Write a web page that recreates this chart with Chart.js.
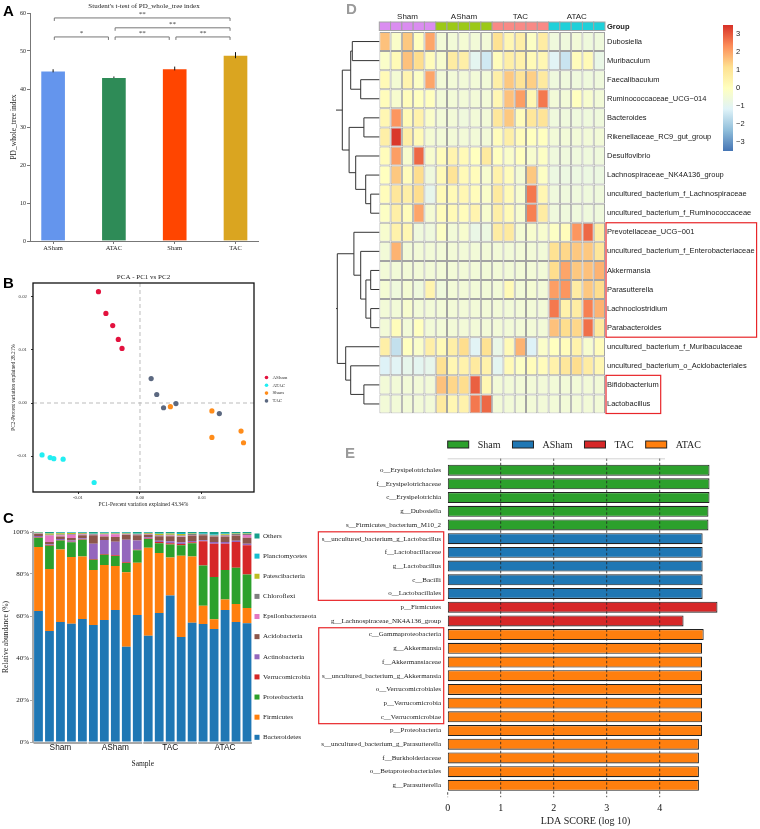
<!DOCTYPE html>
<html>
<head>
<meta charset="utf-8">
<script src="https://cdn.jsdelivr.net/npm/chart.js@4.4.0/dist/chart.umd.min.js"></script>
<style>
body { margin: 0; background: #fff; }
#fig { position: relative; width: 760px; height: 829px; overflow: hidden; background: #fff; }
#fig canvas { position: absolute; }
.tag { position: absolute; font: bold 15px "Liberation Sans", Arial, sans-serif; line-height: 1; color: #000; }
.tag.grey { color: #9a9a9a; }
</style>
</head>
<body>
<div id="fig">
  <canvas id="chartA" width="300" height="262" style="left:0px;top:0px"></canvas>
  <canvas id="chartB" width="300" height="240" style="left:0px;top:268px"></canvas>
  <canvas id="chartC" width="322" height="272" style="left:0px;top:512px"></canvas>
  <canvas id="chartD" width="424" height="420" style="left:336px;top:0px"></canvas>
  <canvas id="chartE" width="460" height="399" style="left:300px;top:430px"></canvas>
  <div class="tag" style="left:3px;top:3px">A</div>
  <div class="tag" style="left:3px;top:275px">B</div>
  <div class="tag" style="left:3px;top:510px">C</div>
  <div class="tag grey" style="left:346px;top:1px">D</div>
  <div class="tag grey" style="left:345px;top:445px">E</div>
</div>
<script>
// ---- A: PD whole tree ----
const groupsA = ['ASham', 'ATAC', 'Sham', 'TAC'];
const pdMeans = [44.8, 43.1, 45.4, 48.9];
const pdErrs = [0.4, 0.2, 0.5, 0.8];
const pdColors = ['#6495ED', '#2E8B57', '#FF4500', '#DAA520'];
// [from, to, level, label]
const pdTests = [[0, 1, 53.7, '*'], [1, 2, 53.7, '**'], [2, 3, 53.7, '**'], [1, 3, 56.1, '**'], [0, 3, 58.7, '**']];

// ---- B: PCA ----
const pcaGroups = ['ASham', 'ATAC', 'Sham', 'TAC'];
const pcaColors = ['#E3123E', '#22EEF2', '#FF8C1A', '#5B6880'];
const pc1ASham = [-0.0067, -0.0055, -0.0044, -0.0035, -0.0029];
const pc2ASham = [0.0210, 0.0169, 0.0146, 0.0120, 0.0103];
const pc1ATAC = [-0.0158, -0.0145, -0.0139, -0.0124, -0.0074];
const pc2ATAC = [-0.0098, -0.0103, -0.0105, -0.0106, -0.0150];
const pc1Sham = [0.0049, 0.0116, 0.0116, 0.0163, 0.0167];
const pc2Sham = [-0.0007, -0.0015, -0.0065, -0.0053, -0.0075];
const pc1TAC = [0.0018, 0.0027, 0.0038, 0.0058, 0.0128];
const pc2TAC = [0.0046, 0.0016, -0.0009, -0.0001, -0.0020];
const pcaTicksX = [-0.01, 0, 0.01];
const pcaTicksY = [-0.01, 0, 0.01, 0.02];

// ---- C: phylum composition ----
const samples = ['Sham1', 'Sham2', 'Sham3', 'Sham4', 'Sham5', 'ASham1', 'ASham2', 'ASham3', 'ASham4', 'ASham5',
  'TAC1', 'TAC2', 'TAC3', 'TAC4', 'TAC5', 'ATAC1', 'ATAC2', 'ATAC3', 'ATAC4', 'ATAC5'];
const sampleGroups = ['Sham', 'ASham', 'TAC', 'ATAC'];
const sampleGroup = [0, 0, 0, 0, 0, 1, 1, 1, 1, 1, 2, 2, 2, 2, 2, 3, 3, 3, 3, 3];
const bacteroidetes = [62.4, 52.9, 57.1, 56.3, 58.6, 55.7, 58.1, 62.9, 45.4, 60.5, 50.6, 61.4, 69.8, 50.0, 56.8, 56.2, 53.8, 62.9, 57.1, 56.5];
const firmicutes = [30.5, 29.5, 34.6, 31.8, 29.7, 26.2, 26.2, 20.9, 35.4, 24.9, 41.9, 28.6, 18.0, 38.7, 31.5, 8.7, 4.6, 4.9, 8.6, 7.3];
const proteobacteria = [4.4, 11.1, 4.3, 7.0, 8.0, 4.9, 4.9, 4.8, 4.4, 5.9, 4.2, 4.6, 6.3, 5.0, 6.3, 19.1, 20.2, 14.1, 17.3, 16.0];
const verrucomicrobia = [0.2, 0.3, 0.2, 0.2, 0.2, 0.3, 0.3, 0.3, 0.4, 0.2, 0.2, 0.6, 0.5, 0.6, 0.5, 11.6, 15.8, 12.5, 12.2, 13.9];
const actinobacteria = [0.6, 0.4, 0.5, 0.6, 0.5, 7.3, 6.7, 6.5, 10.7, 4.4, 0.6, 0.6, 1.0, 0.8, 0.6, 0.5, 0.8, 0.8, 0.6, 0.7];
const acidobacteria = [0.9, 1.0, 1.2, 1.2, 1.5, 4.0, 1.6, 2.2, 2.4, 2.5, 1.2, 2.2, 2.4, 2.5, 2.6, 2.3, 2.6, 2.7, 2.5, 2.9];
const epsilonbacteraeota = [0.2, 3.1, 0.5, 1.6, 0.3, 0.3, 1.0, 1.3, 0.2, 0.3, 0.2, 0.2, 0.3, 0.3, 0.3, 0.2, 0.2, 0.3, 0.3, 1.3];
const chloroflexi = [0.2, 0.4, 0.4, 0.4, 0.4, 0.3, 0.3, 0.3, 0.3, 0.3, 0.3, 0.4, 0.4, 0.4, 0.4, 0.3, 0.3, 0.4, 0.4, 0.4];
const patescibacteria = [0.2, 0.6, 0.6, 0.4, 0.3, 0.2, 0.2, 0.2, 0.2, 0.2, 0.3, 0.6, 0.6, 0.8, 0.3, 0.2, 0.2, 0.3, 0.3, 0.3];
const planctomycetes = [0.2, 0.2, 0.3, 0.3, 0.2, 0.3, 0.3, 0.2, 0.2, 0.3, 0.2, 0.3, 0.2, 0.4, 0.2, 0.2, 0.3, 0.4, 0.2, 0.2];
const others = [0.2, 0.5, 0.3, 0.2, 0.3, 0.5, 0.4, 0.4, 0.4, 0.5, 0.3, 0.5, 0.5, 0.5, 0.5, 0.7, 1.2, 0.7, 0.5, 0.5];
const phyla = ['Bacteroidetes', 'Firmicutes', 'Proteobacteria', 'Verrucomicrobia', 'Actinobacteria', 'Acidobacteria',
  'Epsilonbacteraeota', 'Chloroflexi', 'Patescibacteria', 'Planctomycetes', 'Others'];
const phylaValues = [bacteroidetes, firmicutes, proteobacteria, verrucomicrobia, actinobacteria, acidobacteria,
  epsilonbacteraeota, chloroflexi, patescibacteria, planctomycetes, others];
const phylaColors = ['#1F77B4', '#FF7F0E', '#2CA02C', '#D62728', '#9467BD', '#8C564B', '#E377C2', '#7F7F7F', '#BCBD22', '#17BECF', '#16A08C'];

// ---- D: heatmap (row z-scores) ----
const taxa = ['Dubosiella', 'Muribaculum', 'Faecalibaculum', 'Ruminococcaceae_UCG\u2212014', 'Bacteroides',
  'Rikenellaceae_RC9_gut_group', 'Desulfovibrio', 'Lachnospiraceae_NK4A136_group', 'uncultured_bacterium_f_Lachnospiraceae',
  'uncultured_bacterium_f_Ruminococcaceae', 'Prevotellaceae_UCG\u2212001', 'uncultured_bacterium_f_Enterobacteriaceae',
  'Akkermansia', 'Parasutterella', 'Lachnoclostridium', 'Parabacteroides', 'uncultured_bacterium_f_Muribaculaceae',
  'uncultured_bacterium_o_Acidobacteriales', 'Bifidobacterium', 'Lactobacillus'];
const heatZ = [
  [1.6, -0.2, 1.5, 0.0, 2.0, -0.5, -0.5, -0.4, -0.5, -0.5, 1.1, 0.3, 0.6, -0.1, 0.7, -0.6, -0.6, -0.5, -0.6, -0.6],
  [-0.2, 0.2, 1.6, 1.2, 0.1, -0.3, 0.7, 0.6, -1.0, -1.4, 0.1, 0.6, 0.5, 0.2, 0.3, -1.1, -1.5, 0.1, 0.2, -0.8],
  [0.2, -0.4, 0.4, -0.1, 2.0, -0.5, -0.5, -0.5, -0.5, -0.5, 0.6, 1.5, 1.0, 1.4, 0.8, -0.6, -0.6, -0.6, -0.6, -0.6],
  [0.1, -0.3, 0.1, 0.0, 0.0, -0.5, -0.5, -0.5, -0.5, -0.5, 0.3, 1.6, 2.1, 0.3, 2.6, -0.5, -0.5, 0.0, -0.3, -0.5],
  [0.3, 2.2, 0.2, 0.5, -0.2, -0.5, -0.5, -0.6, -0.5, -0.5, 0.9, 1.5, 0.1, 0.9, 1.0, -0.6, -0.6, -0.6, -0.6, -0.6],
  [0.6, 3.4, 0.6, 0.2, -0.4, -0.5, -0.5, -0.5, -0.5, -0.5, 0.1, 0.6, 0.1, 0.0, 0.0, -0.5, -0.5, -0.5, -0.5, -0.5],
  [0.1, 2.1, -0.3, 2.8, -0.3, 0.1, 0.4, 0.2, 0.0, 0.8, 0.0, -0.2, 0.0, -0.3, -0.1, -0.6, -0.6, -0.6, -0.6, -0.6],
  [0.0, 1.5, 0.1, 1.2, -0.6, 0.2, 1.0, 0.2, 0.1, -0.3, 0.5, 0.1, -0.4, 1.5, -0.1, -0.7, -0.7, -0.7, -0.7, -0.7],
  [0.1, 0.9, 0.6, 1.2, -0.9, 0.2, 0.2, 0.3, 0.1, -0.2, 0.8, 0.2, -0.3, 2.6, 0.3, -0.6, -0.6, -0.6, -0.6, -0.6],
  [-0.1, 0.6, 0.1, 2.0, -0.4, 0.1, 0.2, 0.1, 0.4, -0.3, 0.6, 0.2, -0.3, 2.5, 0.7, -0.6, -0.6, -0.6, -0.6, -0.6],
  [-0.3, 0.5, 0.3, -0.6, -0.6, -0.1, -0.5, -0.3, -0.8, -0.7, 0.7, 0.8, -0.4, -0.3, -0.3, -0.1, 0.1, 2.2, 2.8, 0.6],
  [-0.5, 1.8, -0.5, -0.5, -0.5, -0.5, -0.5, -0.5, -0.5, -0.5, -0.5, -0.5, -0.5, -0.5, -0.5, 1.1, 1.3, 1.5, 1.5, 0.9],
  [-0.5, -0.5, -0.5, -0.5, -0.5, -0.5, -0.5, -0.5, -0.5, -0.5, -0.5, -0.5, -0.5, -0.5, -0.5, 1.2, 2.0, 1.5, 1.6, 1.8],
  [-0.4, -0.6, -0.4, -0.6, 0.4, -0.6, -0.5, -0.5, -0.5, -0.5, -0.5, 0.2, -0.5, -0.4, -0.5, 2.1, 2.2, 0.7, 1.5, 1.2],
  [-0.5, -0.5, -0.3, -0.5, -0.5, -0.5, -0.5, -0.5, -0.5, -0.5, -0.5, -0.5, -0.5, -0.5, -0.5, 2.6, 0.5, 0.7, 2.5, 1.8],
  [-0.5, 0.1, -0.5, 0.0, -0.5, -0.5, -0.5, -0.5, -0.5, -0.5, -0.5, -0.5, -0.5, -0.5, -0.5, 1.6, 1.2, 1.3, 2.7, 0.8],
  [0.6, -1.6, 0.0, -0.2, 0.6, 0.2, 0.6, 1.2, -1.1, 1.1, -0.8, 0.2, 1.8, -1.2, -0.2, 0.0, 0.1, 0.5, -0.3, 0.1],
  [-1.2, -1.1, -0.9, -1.0, -0.9, 1.1, 0.3, 0.5, 0.8, 0.5, -1.0, 0.2, -0.1, 0.1, 0.1, 0.5, 0.9, 1.2, 0.7, 0.3],
  [-0.5, -0.5, -0.5, -0.5, -0.5, 1.6, 1.3, 1.2, 2.9, 0.3, -0.5, -0.5, -0.5, -0.5, -0.5, -0.5, -0.5, -0.5, -0.5, -0.5],
  [-0.5, -0.5, -0.5, -0.5, -0.5, 0.8, 0.3, 0.5, 2.6, 2.8, -0.5, -0.5, -0.5, -0.5, -0.5, -0.5, -0.5, -0.5, -0.5, -0.5]
];
const groupColorsD = ['#DA8DF0', '#9CC918', '#F88A86', '#1FD0D9'];
// merges: [a, b, height]; a/b >= 0 are rows, negative -(k+1) point at merge k
const dendroMerges = [
  [0, 1, 6.5], [2, 3, 4.4], [-1, -2, 6.9], [4, 5, 3.6], [8, 9, 1.9], [7, -5, 3.15], [6, -6, 5.65],
  [-4, -7, 7.3], [-3, -8, 9.0], [12, 13, 1.9], [14, 15, 1.9], [-10, -11, 3.1], [11, -12, 4.4],
  [10, -13, 6.1], [18, 19, 3.6], [17, -15, 6.9], [16, -16, 8.15], [-14, -17, 10.25], [-9, -18, 11.1]
];
const zStops = [-3.5, -2.333, -1.167, 0, 1.167, 2.333, 3.5];
const zColors = ['#4575B4', '#91BFDB', '#E0F3F8', '#FFFFBF', '#FEE090', '#FC8D59', '#D73027'];
const zTicks = [3, 2, 1, 0, -1, -2, -3];
const heatBoxes = [[10, 15], [18, 19]];

// ---- E: LEfSe ----
const ldaNames = ['o__Erysipelotrichales', 'f__Erysipelotrichaceae', 'c__Erysipelotrichia', 'g__Dubosiella',
  's__Firmicutes_bacterium_M10_2', 's__uncultured_bacterium_g_Lactobacillus', 'f__Lactobacillaceae', 'g__Lactobacillus',
  'c__Bacilli', 'o__Lactobacillales', 'p__Firmicutes', 'g__Lachnospiraceae_NK4A136_group', 'c__Gammaproteobacteria',
  'g__Akkermansia', 'f__Akkermansiaceae', 's__uncultured_bacterium_g_Akkermansia', 'o__Verrucomicrobiales',
  'p__Verrucomicrobia', 'c__Verrucomicrobiae', 'p__Proteobacteria', 's__uncultured_bacterium_g_Parasutterella',
  'f__Burkholderiaceae', 'o__Betaproteobacteriales', 'g__Parasutterella'];
const ldaScores = [4.94, 4.94, 4.94, 4.92, 4.92, 4.81, 4.81, 4.81, 4.81, 4.81, 5.09, 4.45, 4.83, 4.80,
  4.80, 4.80, 4.80, 4.80, 4.80, 4.80, 4.74, 4.74, 4.74, 4.74];
const ldaGroup = [0, 0, 0, 0, 0, 1, 1, 1, 1, 1, 2, 2, 3, 3, 3, 3, 3, 3, 3, 3, 3, 3, 3, 3];
const ldaGroupNames = ['Sham', 'ASham', 'TAC', 'ATAC'];
const ldaColors = ['#2CA02C', '#1F77B4', '#D62728', '#FF7F0E'];
const ldaTicks = [0, 1, 2, 3, 4];
const ldaBoxes = [[5, 9], [12, 18]];

const SERIF = '"Liberation Serif", "Times New Roman", serif';
const SANS = '"Liberation Sans", Arial, sans-serif';
Chart.defaults.font.family = SERIF;
Chart.defaults.color = '#222';
Chart.defaults.animation = false;
Chart.defaults.responsive = false;
Chart.defaults.devicePixelRatio = 1;
Chart.defaults.plugins.legend.display = false;
Chart.defaults.plugins.tooltip.enabled = false;

function hexRgb(h) { return [1, 3, 5].map(i => parseInt(h.slice(i, i + 2), 16)); }
function zColor(v) {
  v = Math.max(zStops[0], Math.min(zStops[zStops.length - 1], v));
  let k = 0;
  while (k < zStops.length - 2 && v > zStops[k + 1]) k++;
  const t = (v - zStops[k]) / (zStops[k + 1] - zStops[k]);
  const a = hexRgb(zColors[k]), b = hexRgb(zColors[k + 1]);
  return 'rgb(' + a.map((c, i) => Math.round(c + (b[i] - c) * t)).join(',') + ')';
}

// ---------- A ----------
const pdExtras = {
  id: 'pdExtras',
  afterDatasetsDraw(chart) {
    const {ctx, chartArea, scales: {x, y}} = chart;
    ctx.save();
    ctx.strokeStyle = '#111';
    ctx.lineWidth = 1;
    pdMeans.forEach((m, i) => {
      const px = x.getPixelForValue(i + 1);
      ctx.beginPath();
      ctx.moveTo(px, y.getPixelForValue(m - pdErrs[i]));
      ctx.lineTo(px, y.getPixelForValue(m + pdErrs[i]));
      ctx.stroke();
    });
    ctx.strokeStyle = '#777';
    ctx.fillStyle = '#333';
    ctx.font = '7px ' + SERIF;
    ctx.textAlign = 'center';
    pdTests.forEach(([a, b, lvl, star]) => {
      const x1 = x.getPixelForValue(a + 1.02), x2 = x.getPixelForValue(b + 0.91);
      const py = y.getPixelForValue(lvl);
      ctx.beginPath();
      ctx.moveTo(x1, py + 3); ctx.lineTo(x1, py); ctx.lineTo(x2, py); ctx.lineTo(x2, py + 3);
      ctx.stroke();
      ctx.fillText(star, (x1 + x2) / 2, py - 1.5);
    });
    ctx.fillStyle = '#222';
    ctx.textBaseline = 'middle';
    ctx.fillText("Student's t-test of PD_whole_tree index", (chartArea.left + chartArea.right) / 2, 6);
    ctx.restore();
  }
};

new Chart(document.getElementById('chartA'), {
  type: 'bar',
  data: {
    datasets: [{
      data: pdMeans.map((v, i) => ({x: i + 1, y: v})),
      backgroundColor: pdColors,
      borderColor: 'rgba(255,255,255,0.55)',
      borderWidth: 1,
      barThickness: 25
    }]
  },
  options: {
    layout: {padding: {top: 13, right: 42, left: 0, bottom: 0}},
    scales: {
      x: {
        type: 'linear', min: 0.62, max: 4.37, offset: false,
        afterBuildTicks: s => { s.ticks = [1, 2, 3, 4].map(v => ({value: v})); },
        ticks: {callback: v => groupsA[v - 1], font: {size: 6.5}, padding: 0, color: '#222'},
        grid: {drawOnChartArea: false, offset: false, tickLength: 3, color: '#777'},
        border: {color: '#777'},
        afterFit: s => { s.height = 21; }
      },
      y: {
        min: 0, max: 60,
        ticks: {stepSize: 10, font: {size: 6}, padding: 1, color: '#222'},
        title: {display: true, text: 'PD_whole_tree index', font: {size: 7.5}, padding: {top: 10, bottom: 0}},
        grid: {drawOnChartArea: false, tickLength: 3, color: '#777'},
        border: {color: '#777'},
        afterFit: s => { s.width = 30; }
      }
    }
  },
  plugins: [pdExtras]
});

// ---------- B ----------
const pcaExtras = {
  id: 'pcaExtras',
  beforeDatasetsDraw(chart) {
    const {ctx, chartArea: a, scales: {x, y}} = chart;
    ctx.save();
    ctx.strokeStyle = '#bbb';
    ctx.lineWidth = 1;
    ctx.setLineDash([4, 3]);
    ctx.beginPath();
    ctx.moveTo(x.getPixelForValue(0), a.top); ctx.lineTo(x.getPixelForValue(0), a.bottom);
    ctx.moveTo(a.left, y.getPixelForValue(0)); ctx.lineTo(a.right, y.getPixelForValue(0));
    ctx.stroke();
    ctx.restore();
  },
  afterDraw(chart) {
    const {ctx, chartArea: a} = chart;
    ctx.save();
    ctx.strokeStyle = '#111';
    ctx.lineWidth = 1.3;
    ctx.strokeRect(a.left, a.top, a.right - a.left, a.bottom - a.top);
    ctx.fillStyle = '#222';
    ctx.font = '7px ' + SERIF;
    ctx.textAlign = 'center';
    ctx.textBaseline = 'middle';
    ctx.fillText('PCA - PC1 vs PC2', (a.left + a.right) / 2, a.top - 6);
    ctx.font = '5px ' + SERIF;
    ctx.textAlign = 'left';
    chart.data.datasets.forEach((d, i) => {
      const ly = 109.5 + i * 7.8;
      ctx.fillStyle = d.backgroundColor;
      ctx.beginPath(); ctx.arc(a.right + 12.5, ly, 1.8, 0, Math.PI * 2); ctx.fill();
      ctx.fillStyle = '#333';
      ctx.fillText(d.label, a.right + 18.5, ly);
    });
    ctx.restore();
  }
};

const pcaPoints = [[pc1ASham, pc2ASham], [pc1ATAC, pc2ATAC], [pc1Sham, pc2Sham], [pc1TAC, pc2TAC]];
new Chart(document.getElementById('chartB'), {
  type: 'scatter',
  data: {
    datasets: pcaPoints.map(([xs, ys], g) => ({
      label: pcaGroups[g],
      data: xs.map((v, i) => ({x: v, y: ys[i]})),
      backgroundColor: pcaColors[g],
      borderWidth: 0,
      pointRadius: 2.6
    }))
  },
  options: {
    layout: {padding: {top: 15, right: 46, left: 0, bottom: 0}},
    scales: {
      x: {
        min: -0.01726, max: 0.01839,
        afterBuildTicks: s => { s.ticks = pcaTicksX.map(v => ({value: v})); },
        ticks: {callback: v => v.toFixed(2), font: {size: 4.8}, padding: 0.5, color: '#333'},
        grid: {drawOnChartArea: false, tickLength: 2, color: '#333'},
        border: {display: false},
        title: {display: true, text: 'PC1-Percent variation explained 43.34%', font: {size: 5.5}, padding: {top: 0, bottom: 0}},
        afterFit: s => { s.height = 16; }
      },
      y: {
        min: -0.01679, max: 0.02264,
        afterBuildTicks: s => { s.ticks = pcaTicksY.map(v => ({value: v})); },
        ticks: {callback: v => v.toFixed(2), font: {size: 4.8}, padding: 4, color: '#333'},
        grid: {drawOnChartArea: false, tickLength: 2, color: '#333'},
        border: {display: false},
        title: {display: true, text: 'PC2-Percent variation explained 28.21%', font: {size: 5.3}, padding: {top: 10.5, bottom: 0}},
        afterFit: s => { s.width = 33; }
      }
    }
  },
  plugins: [pcaExtras]
});

// ---------- C ----------
const compExtras = {
  id: 'compExtras',
  afterDraw(chart) {
    const {ctx, chartArea: a, scales: {x}} = chart;
    const step = (a.right - a.left) / samples.length;
    ctx.save();
    ctx.strokeStyle = '#a8a8a8';
    ctx.lineWidth = 2;
    sampleGroups.forEach((g, gi) => {
      const idx = sampleGroup.map((s, i) => s === gi ? i : -1).filter(i => i >= 0);
      const x0 = x.getPixelForValue(idx[0]) - step * 0.45;
      const x1 = x.getPixelForValue(idx[idx.length - 1]) + step * 0.45;
      ctx.beginPath(); ctx.moveTo(x0, a.bottom + 1); ctx.lineTo(x1, a.bottom + 1); ctx.stroke();
    });
    ctx.font = '7px ' + SERIF;
    ctx.textBaseline = 'middle';
    ctx.textAlign = 'left';
    const sets = chart.data.datasets.slice().reverse();
    sets.forEach((d, i) => {
      const ly = a.top + 4 + i * 20.13;
      ctx.fillStyle = d.backgroundColor;
      ctx.fillRect(a.right + 2, ly - 2.5, 5, 5);
      ctx.fillStyle = '#222';
      ctx.fillText(d.label, a.right + 10.5, ly);
    });
    ctx.restore();
  }
};

new Chart(document.getElementById('chartC'), {
  type: 'bar',
  data: {
    labels: samples,
    datasets: phyla.map((p, i) => ({
      label: p,
      data: phylaValues[i],
      backgroundColor: phylaColors[i],
      borderWidth: 0,
      barPercentage: 0.8,
      categoryPercentage: 1
    }))
  },
  options: {
    layout: {padding: {top: 20, right: 69.5, left: 0, bottom: 0}},
    scales: {
      x: {
        stacked: true,
        ticks: {
          autoSkip: false, maxRotation: 0, padding: 1, color: '#111',
          font: {family: SANS, size: 8.3},
          callback: (v, i) => i % 5 === 2 ? sampleGroups[Math.floor(i / 5)] : ''
        },
        grid: {display: false, drawTicks: false},
        border: {display: false},
        title: {display: true, text: 'Sample', font: {size: 7.5}, padding: {top: 0, bottom: 15.5}},
        afterFit: s => { s.height = 42; }
      },
      y: {
        stacked: true, min: 0, max: 100,
        ticks: {stepSize: 20, callback: v => v + '%', font: {size: 7}, padding: 1, color: '#222'},
        grid: {drawOnChartArea: false, tickLength: 3, color: '#aaa'},
        border: {color: '#aaa', width: 2},
        title: {display: true, text: 'Relative abundance (%)', font: {size: 7.5}, padding: {top: 1.5, bottom: 0}},
        afterFit: s => { s.width = 33; }
      }
    }
  },
  plugins: [compExtras]
});

// ---------- D ----------
const heatExtras = {
  id: 'heatExtras',
  afterDraw(chart) {
    const {ctx, chartArea: a, scales: {x, y}} = chart;
    const rowH = (a.bottom - a.top) / taxa.length;
    ctx.save();
    // annotation bar
    ctx.lineWidth = 1;
    ctx.strokeStyle = '#a3a3a3';
    sampleGroup.forEach((g, c) => {
      const x0 = x.getPixelForValue(c), x1 = x.getPixelForValue(c + 1);
      ctx.fillStyle = groupColorsD[g];
      ctx.fillRect(x0, a.top - 10, x1 - x0, 8.5);
      ctx.strokeRect(x0, a.top - 10, x1 - x0, 8.5);
    });
    ctx.fillStyle = '#222';
    ctx.font = '8px ' + SANS;
    ctx.textAlign = 'center';
    ctx.textBaseline = 'middle';
    sampleGroups.forEach((g, gi) => {
      const idx = sampleGroup.map((s, i) => s === gi ? i : -1).filter(i => i >= 0);
      const cx = (x.getPixelForValue(idx[0]) + x.getPixelForValue(idx[idx.length - 1] + 1)) / 2;
      ctx.fillText(g, cx, a.top - 15);
    });
    ctx.textAlign = 'left';
    ctx.font = 'bold 7.5px ' + SANS;
    ctx.fillText('Group', a.right + 2, a.top - 5.5);

    // row dendrogram
    const pos = [];
    const node = k => k >= 0 ? {x: a.left, y: y.getPixelForValue(k)} : pos[-k - 1];
    ctx.strokeStyle = '#333';
    ctx.lineWidth = 1;
    dendroMerges.forEach(([p, q, h]) => {
      const n1 = node(p), n2 = node(q);
      const mx = a.left - 1 - h * 4;
      ctx.beginPath();
      ctx.moveTo(n1.x, n1.y); ctx.lineTo(mx, n1.y); ctx.lineTo(mx, n2.y); ctx.lineTo(n2.x, n2.y);
      ctx.stroke();
      pos.push({x: mx, y: (n1.y + n2.y) / 2});
    });

    // colour key
    const kx = a.right + 118, zPx = v => a.top + 56 - 18 * v;
    const grad = ctx.createLinearGradient(0, zPx(3.5), 0, zPx(-3.5));
    zStops.forEach((s, i) => grad.addColorStop((3.5 - s) / 7, zColors[i]));
    ctx.fillStyle = grad;
    ctx.fillRect(kx, zPx(3.5), 10, zPx(-3.5) - zPx(3.5));
    ctx.fillStyle = '#222';
    ctx.font = '7.5px ' + SANS;
    zTicks.forEach(v => ctx.fillText(v < 0 ? '\u2212' + (-v) : String(v), kx + 13, zPx(v)));

    // highlight boxes
    ctx.strokeStyle = '#E8262A';
    ctx.lineWidth = 1.2;
    ctx.font = '7.5px ' + SANS;
    heatBoxes.forEach(([r0, r1]) => {
      let w = 0;
      for (let r = r0; r <= r1; r++) w = Math.max(w, ctx.measureText(taxa[r]).width);
      const top = y.getPixelForValue(r0) - rowH / 2, bot = y.getPixelForValue(r1) + rowH / 2;
      ctx.strokeRect(a.right + 1, top, w + 3, bot - top);
    });
    ctx.restore();
  }
};

new Chart(document.getElementById('chartD'), {
  type: 'bar',
  data: {
    labels: taxa,
    datasets: samples.map((s, c) => ({
      label: s,
      data: taxa.map(() => 1),
      backgroundColor: heatZ.map(row => zColor(row[c])),
      borderColor: '#a3a3a3',
      borderWidth: 1,
      borderSkipped: false,
      inflateAmount: 0,
      barPercentage: 1,
      categoryPercentage: 1
    }))
  },
  options: {
    indexAxis: 'y',
    layout: {padding: {top: 32, right: 0, left: 43.3, bottom: 4}},
    scales: {
      x: {stacked: true, display: false, min: 0, max: samples.length},
      y: {
        stacked: true, position: 'right',
        grid: {display: false, drawTicks: false},
        border: {display: false},
        ticks: {autoSkip: false, font: {family: SANS, size: 7.5}, color: '#1a1a1a', padding: 2},
        afterFit: s => { s.width = 155; }
      }
    }
  },
  plugins: [heatExtras]
});

// ---------- E ----------
const ldaExtras = {
  id: 'ldaExtras',
  afterDatasetsDraw(chart) {
    const {ctx, chartArea: a, scales: {x, y}} = chart;
    const rowH = (a.bottom - a.top) / ldaNames.length;
    ctx.save();
    ctx.strokeStyle = '#222';
    ctx.lineWidth = 0.8;
    ctx.setLineDash([2.5, 2]);
    ldaTicks.forEach(v => {
      const px = x.getPixelForValue(v);
      ctx.beginPath();
      ctx.moveTo(px, v === 0 ? a.bottom : a.top - 5);
      ctx.lineTo(px, a.bottom + 5);
      ctx.stroke();
    });
    ctx.setLineDash([]);
    ctx.strokeStyle = '#c8c8c8';
    ctx.beginPath();
    ctx.moveTo(x.getPixelForValue(0), a.top - 4.5);
    ctx.lineTo(x.getPixelForValue(4.1), a.top - 4.5);
    ctx.stroke();

    // legend
    ctx.font = '10px ' + SERIF;
    ctx.textBaseline = 'middle';
    ctx.textAlign = 'left';
    let lx = a.left;
    ldaGroupNames.forEach((g, i) => {
      ctx.fillStyle = ldaColors[i];
      ctx.fillRect(lx, 11, 21, 7);
      ctx.strokeStyle = '#222';
      ctx.lineWidth = 1;
      ctx.strokeRect(lx, 11, 21, 7);
      ctx.fillStyle = '#222';
      ctx.fillText(g, lx + 30, 15);
      lx += 30 + ctx.measureText(g).width + 12;
    });

    // highlight boxes around labels
    ctx.strokeStyle = '#E8262A';
    ctx.lineWidth = 1.2;
    ctx.font = '7px ' + SERIF;
    ldaBoxes.forEach(([r0, r1]) => {
      let w = 0;
      for (let r = r0; r <= r1; r++) w = Math.max(w, ctx.measureText(ldaNames[r]).width);
      const top = y.getPixelForValue(r0) - rowH / 2, bot = y.getPixelForValue(r1) + rowH / 2;
      ctx.strokeRect(a.left - 4 - w - 6, top, w + 6, bot - top);
    });
    ctx.restore();
  }
};

new Chart(document.getElementById('chartE'), {
  type: 'bar',
  data: {
    labels: ldaNames,
    datasets: [{
      data: ldaScores,
      backgroundColor: ldaGroup.map(g => ldaColors[g]),
      borderColor: '#222',
      borderWidth: 1.1,
      borderSkipped: false,
      barPercentage: 0.8,
      categoryPercentage: 1
    }]
  },
  options: {
    indexAxis: 'y',
    layout: {padding: {top: 33.3, right: 36.7, left: 0, bottom: 0}},
    scales: {
      x: {
        min: 0, max: 5.2,
        afterBuildTicks: s => { s.ticks = ldaTicks.map(v => ({value: v})); },
        grid: {display: false, drawTicks: false},
        border: {display: false},
        ticks: {font: {size: 10}, padding: 10, color: '#111'},
        title: {display: true, text: 'LDA SCORE (log 10)', font: {size: 10}, padding: {top: 0, bottom: 1.7}},
        afterFit: s => { s.height = 36.8; }
      },
      y: {
        grid: {display: false, drawTicks: false},
        border: {display: false},
        ticks: {autoSkip: false, font: {size: 7}, padding: 6.7, color: '#222'},
        afterFit: s => { s.width = 147.7; }
      }
    }
  },
  plugins: [ldaExtras]
});
</script>
</body>
</html>
